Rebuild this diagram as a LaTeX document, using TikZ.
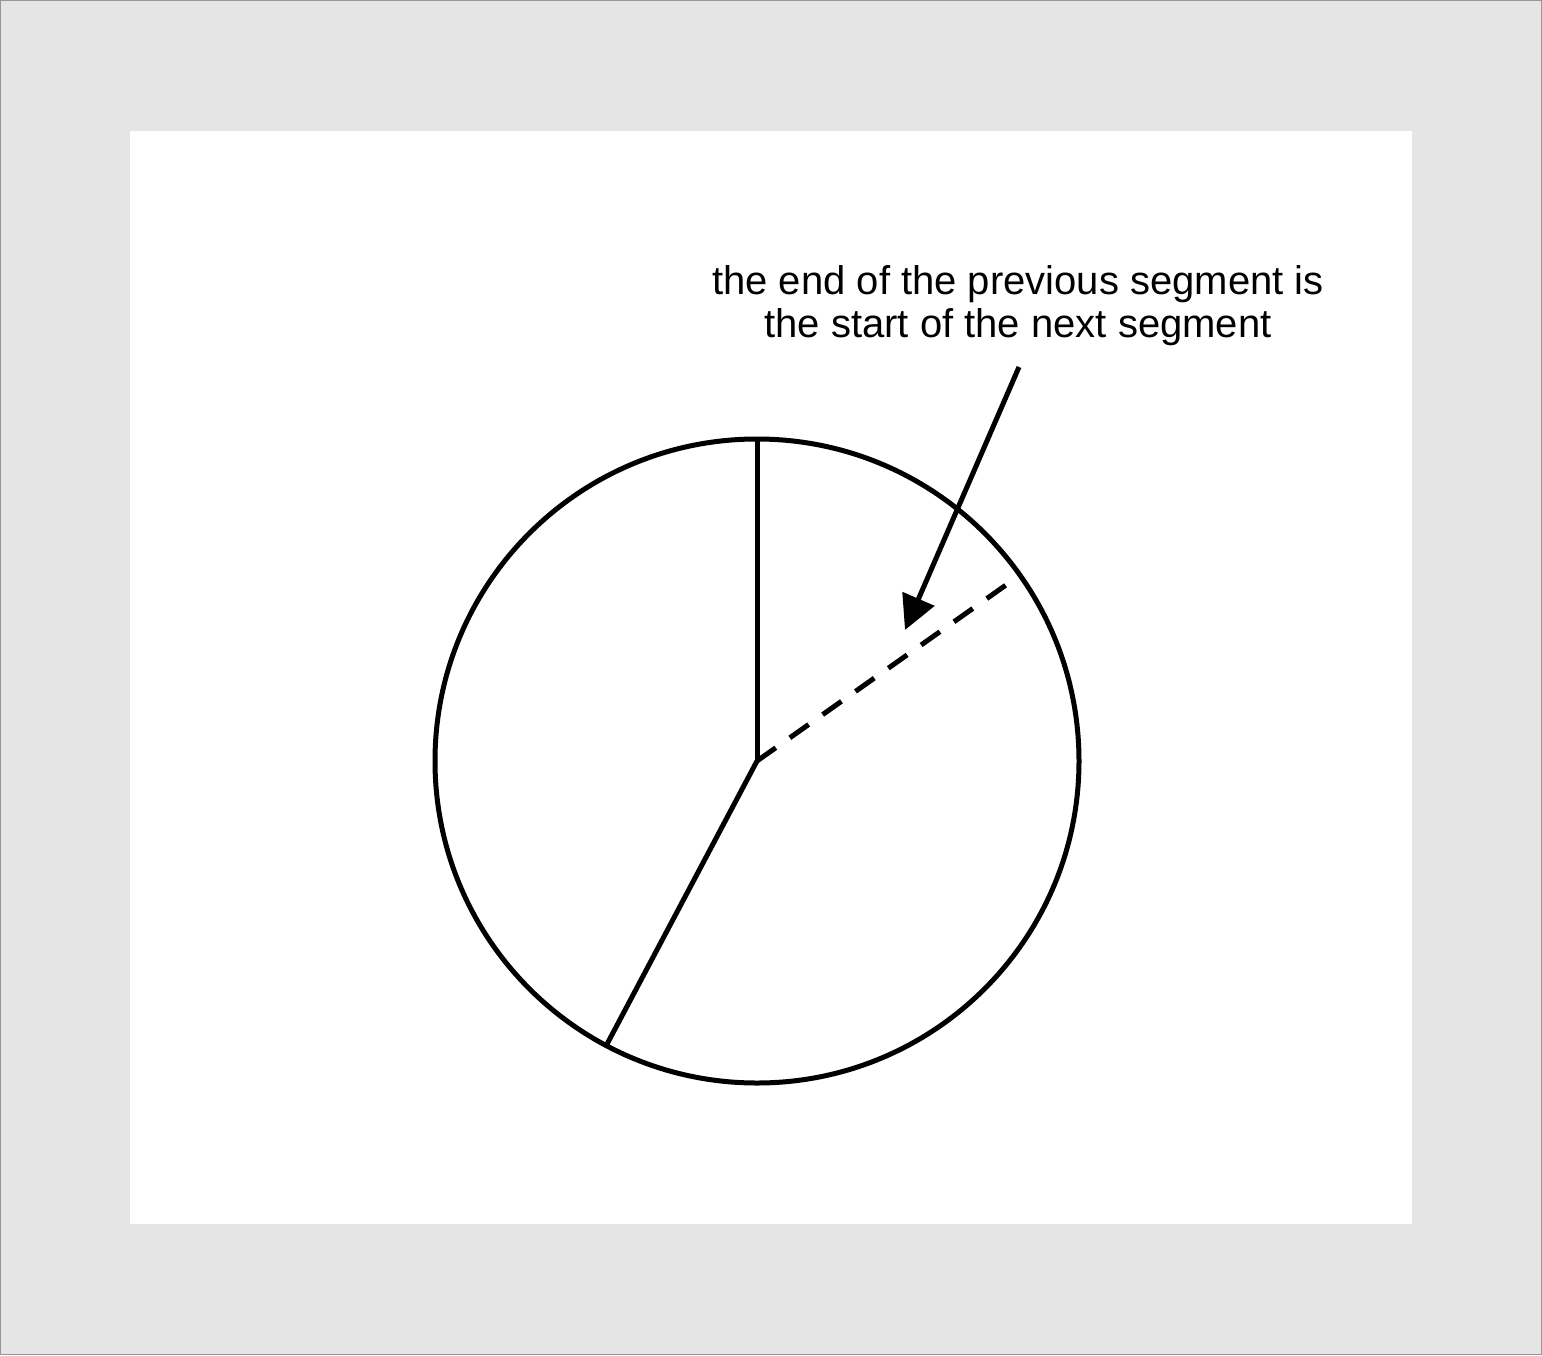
\documentclass[tikz,border=0pt]{standalone}
\usepackage{fontspec}
\setmainfont{Liberation Sans}
\usetikzlibrary{arrows.meta, positioning}
\definecolor{pagegray}{RGB}{229, 229, 229}
\definecolor{rimgray}{RGB}{150, 150, 150}

\begin{document}
\begin{tikzpicture}[x=0.5pt, y=-0.5pt, line width=2.5pt,
    wheel/.style={draw, circle, minimum size=322pt, inner sep=0pt},
    note/.style={align=center, inner sep=0pt, font=\fontsize{20}{21.5}\selectfont}]
  \useasboundingbox (0,0) rectangle (1542,1355);
  \fill[pagegray, draw=rimgray, line width=0.5pt] (0.5,0.5) rectangle (1541.5,1354.5);
  \fill[white] (130,131) rectangle (1412,1224);
  % the circle and its segments
  \node[wheel] (wheel) at (757,761) {};
  \coordinate (top) at (wheel.90);
  \coordinate (low) at (606,1046);
  \coordinate (next) at (1006,585);
  \draw (wheel.center) -- (top);
  \draw (wheel.center) -- (low);
  \draw[dash pattern=on 11.5pt off 8.6pt] (wheel.center) -- (next);
  % annotation
  \node[note] (label) at (1018,306) {the end of the previous segment is\\the start of the next segment};
  \coordinate (from) at (1019,367);
  \coordinate (to) at (905,630);
  \draw[-{Triangle[length=17pt, width=17pt]}] (from) -- (to);
\end{tikzpicture}
\end{document}
